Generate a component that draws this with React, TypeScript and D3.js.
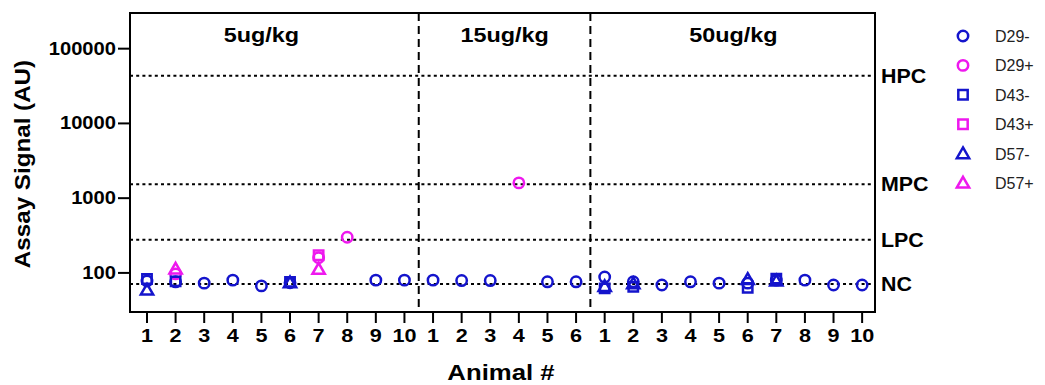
import React from "react";
import * as d3 from "d3";

// ---- data ----
const animalLabels = ["1","2","3","4","5","6","7","8","9","10","1","2","3","4","5","6","1","2","3","4","5","6","7","8","9","10"];
const groupNames = ["5ug/kg", "15ug/kg", "50ug/kg"];
const groupLabelPos = [5.0, 13.5, 21.5];
const groupDividers = [10.5, 16.5];
const yTicks = [100, 1000, 10000, 100000];
const refNames = ["HPC", "MPC", "LPC", "NC"];
const refValues = [43500, 1540, 278, 71];

// values by animal position 1..26 (null = no point)
const D29neg = [78, 76, 73, 80, 67, 74, null, null, 80, 80, 80, 79, 79, null, 76, 76, 88, 76, 69, 76, 73, 73, 80, 80, 69, 69];
const D29pos = [null, 97, null, null, null, null, 160, 300, null, null, null, null, null, 1600, null, null, null, null, null, null, null, null, null, null, null, null];
const D43neg = [83, 77, null, null, null, 76, null, null, null, null, null, null, null, null, null, null, 62, 65, null, null, null, 63, 84, null, null, null];
const D43pos = [null, null, null, null, null, null, 172, null, null, null, null, null, null, null, null, null, null, null, null, null, null, null, null, null, null, null];
const D57neg = [59, null, null, null, null, 74, null, null, null, null, null, null, null, null, null, null, 66, 72, null, null, null, 82, 78, null, null, null];
const D57pos = [null, 113, null, null, null, null, 112, null, null, null, null, null, null, null, null, null, null, null, null, null, null, null, null, null, null, null];

const seriesNames = ["D29-", "D29+", "D43-", "D43+", "D57-", "D57+"];
const seriesValues = [D29neg, D29pos, D43neg, D43pos, D57neg, D57pos];
const seriesShapes = ["circle", "circle", "square", "square", "triangle", "triangle"];

const BLUE = "#1414cc";
const MAG = "#ee18ee";
const seriesColors = [BLUE, MAG, BLUE, MAG, BLUE, MAG];

const W = 1045, H = 385;
const L = 130, R = 875, T = 13, B = 312;
const FONT = "Liberation Sans, Arial, sans-serif";

function Marker({ shape, x, y, color }: { shape: string; x: number; y: number; color: string }) {
  if (shape === "circle") {
    return <circle cx={x} cy={y} r={5.2} fill="none" stroke={color} strokeWidth={2.5} />;
  }
  const sym = shape === "square" ? d3.symbolSquare : d3.symbolTriangle;
  const size = shape === "square" ? 88 : 66;
  const p = d3.symbol().type(sym).size(size)() as string;
  return <path d={p} transform={`translate(${x},${y + (shape === "triangle" ? 1 : 0)})`} fill="none" stroke={color} strokeWidth={2.5} />;
}

function SText({ x, y, sx, anchor, size, weight, fill, children, rotate }: any) {
  return (
    <g transform={`translate(${x},${y})${rotate ? ` rotate(${rotate})` : ""} scale(${sx},1)`}>
      <text x={0} y={0} textAnchor={anchor || "start"} fontSize={size} fontWeight={weight || "bold"} fill={fill || "#000"}>{children}</text>
    </g>
  );
}

export default function App() {
  const x = d3.scaleLinear().domain([0.406, 26.45]).range([L, R]);
  const y = d3.scaleLog().domain([30, 300000]).range([B, T]);

  return (
    <svg width={W} height={H} style={{ position: "absolute", left: 0, top: 0, background: "#fff" }} fontFamily={FONT}>
      {/* reference lines */}
      {refValues.map((v, i) => (
        <g key={"ref" + i}>
          <line x1={L} x2={R} y1={y(v)} y2={y(v)} stroke="#000" strokeWidth={2} strokeDasharray="3,3.2" />
          <SText x={R + 6} y={y(v) + 7} sx={1.07} size={20}>{refNames[i]}</SText>
        </g>
      ))}
      {/* group dividers */}
      {groupDividers.map((d, i) => (
        <line key={"div" + i} x1={x(d)} x2={x(d)} y1={T} y2={B} stroke="#000" strokeWidth={2} strokeDasharray="8,5" />
      ))}
      {/* group labels */}
      {groupNames.map((g, i) => (
        <SText key={"g" + i} x={x(groupLabelPos[i])} y={42} sx={1.17} anchor="middle" size={20}>{g}</SText>
      ))}
      {/* frame */}
      <rect x={L} y={T} width={R - L} height={B - T} fill="none" stroke="#000" strokeWidth={2} />
      {/* y axis */}
      {yTicks.map((t) => (
        <g key={"yt" + t}>
          <line x1={L - 12} x2={L} y1={y(t)} y2={y(t)} stroke="#000" strokeWidth={2} />
          <SText x={L - 14} y={y(t) + 6} sx={1.12} anchor="end" size={18}>{t}</SText>
        </g>
      ))}
      <SText x={30} y={164} rotate={-90} sx={1.1} anchor="middle" size={22}>Assay Signal (AU)</SText>
      {/* x axis */}
      {animalLabels.map((lab, i) => (
        <g key={"xt" + i}>
          <line x1={x(i + 1)} x2={x(i + 1)} y1={B} y2={B + 11} stroke="#000" strokeWidth={2} />
          <SText x={x(i + 1)} y={B + 30} sx={1.2} anchor="middle" size={18}>{lab}</SText>
        </g>
      ))}
      <SText x={501} y={380} sx={1.17} anchor="middle" size={22}>Animal #</SText>
      {/* data */}
      {seriesValues.map((vals, si) => (
        <g key={"s" + si}>
          {vals.map((v, i) =>
            v == null ? null : (
              <Marker key={i} shape={seriesShapes[si]} x={x(i + 1)} y={y(v)} color={seriesColors[si]} />
            )
          )}
        </g>
      ))}
      {/* legend */}
      {seriesNames.map((n, i) => (
        <g key={"lg" + i} transform={`translate(0,${36 + i * 29.4})`}>
          <Marker shape={seriesShapes[i]} x={963} y={0} color={seriesColors[i]} />
          <text x={995} y={6} fontSize={16} fill="#222">{n}</text>
        </g>
      ))}
    </svg>
  );
}
